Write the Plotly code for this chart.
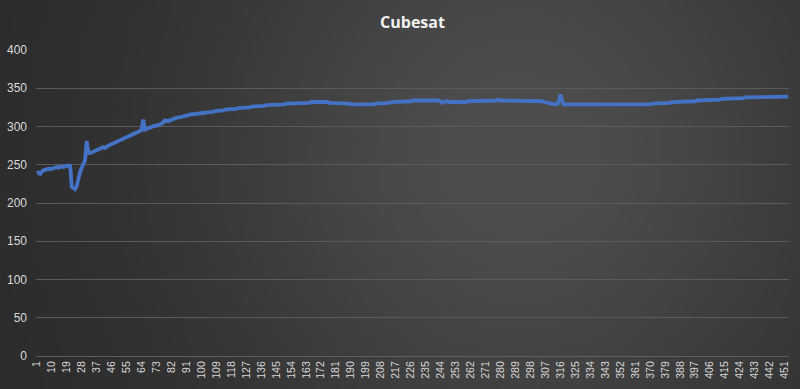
import base64, math, struct, zlib
import plotly.graph_objects as go

# ---------------- data ----------------
values = [
    239,240,238,241,243,243,244,245,244,245,246,246,247,246,247,248,247,248,249,248,
    250,221,219,218,222,232,240,246,252,256,281,266,265,266,267,268,268,270,270,271,
    273,272,274,275,276,277,278,279,279,281,282,283,283,285,286,287,287,289,290,290,
    292,293,294,296,309,296,297,297,298,299,300,301,301,302,303,304,305,308,307,307,
    308,309,310,310,311,312,312,313,314,314,314,315,315,316,316,316,317,317,317,318,
    317,318,318,318,319,319,319,320,320,320,321,321,321,322,322,322,322,323,323,323,
    323,324,324,324,324,325,325,325,325,326,326,326,326,327,327,327,327,327,328,328,
    328,328,328,329,329,329,329,329,329,329,330,330,330,330,330,330,330,331,331,331,
    331,331,331,331,331,332,332,332,332,332,332,333,333,332,332,332,331,331,331,331,
    330,330,330,330,330,330,330,330,330,329,329,329,329,329,328,328,328,328,328,328,
    329,329,329,329,330,330,330,330,331,331,331,331,331,332,332,332,332,332,332,333,
    333,333,333,333,333,333,334,334,334,334,334,334,334,334,334,334,334,334,335,335,
    334,334,334,332,331,332,333,333,332,332,331,331,331,331,331,332,332,332,332,333,
    333,333,333,333,333,333,334,334,334,334,334,334,334,334,334,334,334,335,334,334,
    334,334,334,334,334,334,333,334,334,334,334,334,334,333,333,334,334,333,333,333,
    333,333,333,333,333,332,332,331,331,330,330,330,329,329,333,342,333,329,329,329,
    329,329,329,329,329,329,329,329,329,329,329,329,329,328,328,328,328,328,328,328,
    328,328,328,328,328,328,328,328,328,328,328,328,328,328,328,328,328,328,328,328,
    328,328,328,328,328,328,328,328,329,329,330,330,331,330,330,331,331,331,331,331,
    331,331,332,332,332,332,332,332,332,332,333,333,333,333,333,333,333,334,334,334,
    334,334,334,334,334,335,335,335,335,335,335,335,336,336,336,336,336,336,336,337,
    337,337,337,337,337,337,338,338,338,338,338,338,338,338,338,338,338,338,339,339,
    339,339,339,339,339,339,339,339,339,339,339,339,339,
]
categories = [str(i + 1) for i in range(len(values))]
tick_labels = categories[::9]
y_ticks = [0, 50, 100, 150, 200, 250, 300, 350, 400]
title_text = "Cubesat"

# ---------------- background gradient (decoration) ----------------
def gradient_png(w, h):
    rows = []
    for j in range(h):
        v = j / (h - 1)
        row = bytearray([0])
        for i in range(w):
            u = i / (w - 1)
            c = 42 + 36 * math.exp(-(((u - 0.65) / 0.42) ** 2 + ((v - 0.4) / 0.9) ** 2))
            c = int(max(0, min(255, c)))
            row += bytes([c, c, c])
        rows.append(bytes(row))
    raw = b"".join(rows)
    def chunk(tag, data):
        return struct.pack(">I", len(data)) + tag + data + struct.pack(">I", zlib.crc32(tag + data) & 0xffffffff)
    png = b"\x89PNG\r\n\x1a\n"
    png += chunk(b"IHDR", struct.pack(">IIBBBBB", w, h, 8, 2, 0, 0, 0))
    png += chunk(b"IDAT", zlib.compress(raw, 9))
    png += chunk(b"IEND", b"")
    return "data:image/png;base64," + base64.b64encode(png).decode()

W, H = 800, 389
ML, MR, MT, MB = 36, 11, 50, 33
PW, PH = W - ML - MR, H - MT - MB

fig = go.Figure()
fig.add_trace(go.Scatter(
    x=categories, y=values, mode="lines",
    line=dict(color="#4472C4", width=3.8),
    hoverinfo="x+y", showlegend=False,
))

fig.update_layout(
    width=W, height=H,
    margin=dict(l=ML, r=MR, t=MT, b=MB, pad=0),
    paper_bgcolor="#333333",
    plot_bgcolor="rgba(0,0,0,0)",
    title=dict(text="<b>" + title_text + "</b>", x=0.5, xref="paper", xanchor="center",
               y=1 - 22 / H, yanchor="middle",
               font=dict(family="Open Sans", size=16, color="#f2f2f2")),
    images=[dict(source=gradient_png(160, 80), xref="paper", yref="paper",
                 x=-ML / PW, y=1 + MT / PH, sizex=W / PW, sizey=H / PH,
                 xanchor="left", yanchor="top", sizing="stretch", layer="below")],
    xaxis=dict(type="category", range=[-0.5, len(values) - 0.5],
               tickmode="array", tickvals=tick_labels, ticktext=tick_labels,
               tickangle=-90, showgrid=False, ticks="",
               showline=True, linecolor="#5e5e5e", linewidth=1,
               tickfont=dict(family="Liberation Sans", size=10.5, color="#d9d9d9"),
               automargin=False, zeroline=False),
    yaxis=dict(range=[0, 400], tickmode="array", tickvals=y_ticks,
               showgrid=True, gridcolor="#5a5a5a", gridwidth=1,
               zeroline=False, showline=False, ticks="",
               ticklabelstandoff=8,
               tickfont=dict(family="Liberation Sans", size=12, color="#d9d9d9"),
               automargin=False),
)

fig.write_html(
    "out.html",
    config={"displayModeBar": False},
    post_script="document.body.style.margin='0';document.body.style.overflow='hidden';document.body.style.background='#333';",
)
